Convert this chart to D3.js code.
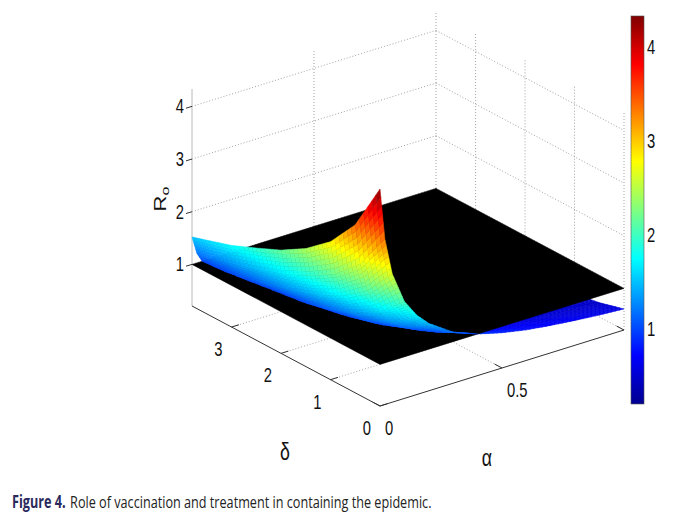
<!DOCTYPE html>
<html>
<head>
<meta charset="utf-8">
<script src="https://cdn.jsdelivr.net/npm/d3@7"></script>
<style>
  body { margin: 0; background: #fff; }
  svg { display: block; }
</style>
</head>
<body>
<svg id="chart" width="680" height="525"></svg>
<script>
// --- DATA ---
const alphaVals = [0, 0.02, 0.05, 0.1, 0.15, 0.2, 0.3, 0.4, 0.5, 0.6, 0.7, 0.8, 0.9, 1.0];
const deltaVals = [0, 0.5, 1, 1.5, 2, 2.5, 3, 3.5, 3.8];
// R0 values: one row per delta, one column per alpha
const r0Vals = [
  [4.33, 3.35, 2.65, 2.05, 1.72, 1.49, 1.18, 1.00, 0.88, 0.79, 0.73, 0.68, 0.64, 0.61],
  [3.40, 2.63, 2.08, 1.61, 1.35, 1.17, 0.93, 0.79, 0.69, 0.62, 0.57, 0.53, 0.50, 0.48],
  [2.83, 2.19, 1.73, 1.34, 1.12, 0.97, 0.77, 0.65, 0.58, 0.52, 0.48, 0.44, 0.42, 0.40],
  [2.45, 1.90, 1.50, 1.16, 0.97, 0.84, 0.67, 0.57, 0.50, 0.45, 0.41, 0.38, 0.36, 0.35],
  [2.17, 1.68, 1.33, 1.03, 0.86, 0.75, 0.59, 0.50, 0.44, 0.40, 0.37, 0.34, 0.32, 0.31],
  [1.96, 1.51, 1.20, 0.93, 0.78, 0.67, 0.53, 0.45, 0.40, 0.36, 0.33, 0.31, 0.29, 0.28],
  [1.76, 1.36, 1.08, 0.83, 0.70, 0.61, 0.48, 0.41, 0.36, 0.32, 0.30, 0.28, 0.26, 0.25],
  [1.61, 1.24, 0.98, 0.76, 0.64, 0.55, 0.44, 0.37, 0.33, 0.29, 0.27, 0.25, 0.24, 0.23],
  [1.52, 1.18, 0.93, 0.72, 0.61, 0.52, 0.42, 0.35, 0.31, 0.28, 0.26, 0.24, 0.23, 0.21]
];
const thresholdR0 = 1;
const alphaDomain = [0, 1];
const deltaDomain = [0, 3.8];
const zTicks = [1, 2, 3, 4];
const deltaTicks = [0, 1, 2, 3];
const alphaTicks = [0, 0.5];
const alphaGrid = [0.5, 1];
const colorTicks = [1, 2, 3, 4];

(function() {
    const svg = d3.select("#chart");
    const font = "'Liberation Sans', Arial, Helvetica, sans-serif";
    const squeeze = 0.74;

    const rAll = r0Vals.flat();
    const rMin = d3.min(rAll), rMax = d3.max(rAll);

    // --- SCALES (data -> unit box) ---
    const uScale = d3.scaleLinear().domain(alphaDomain).range([0, 1]);
    const vScale = d3.scaleLinear().domain(deltaDomain).range([0, 1]);
    const wScale = d3.scaleLinear().domain([rMin, rMax]).range([0, 1]);

    // box corner (alpha=0, delta=0, z=min) and screen edges of the unit box
    const O = [380, 406], eU = [244, -76], eV = [-188, -100], eW = [0, -217];

    function project(a, d, r) {
        const u = uScale(a), v = vScale(d), w = wScale(r);
        return [O[0] + u * eU[0] + v * eV[0] + w * eW[0],
                O[1] + u * eU[1] + v * eV[1] + w * eW[1]];
    }

    // direction toward the viewer (null vector of the projection)
    const r1 = [eU[0], eV[0], eW[0]], r2 = [eU[1], eV[1], eW[1]];
    let cam = [r1[1] * r2[2] - r1[2] * r2[1],
               r1[2] * r2[0] - r1[0] * r2[2],
               r1[0] * r2[1] - r1[1] * r2[0]];
    if (cam[2] < 0) cam = cam.map(c => -c);
    const depth = p => cam[0] * uScale(p.a) + cam[1] * vScale(p.d) + cam[2] * wScale(p.r);

    // jet colormap
    const jetPos = [0, 0.125, 0.375, 0.625, 0.875, 1];
    const jetCols = ["#00008f", "#0000ff", "#00ffff", "#ffff00", "#ff0000", "#800000"];
    const color = d3.scaleLinear()
        .domain(jetPos.map(p => rMin + p * (rMax - rMin)))
        .range(jetCols)
        .interpolate(d3.interpolateRgb)
        .clamp(true);

    const line = d3.line();

    // --- GRID & AXES ---
    const grid = svg.append("g")
        .attr("fill", "none")
        .attr("stroke", "#8a8a8a")
        .attr("stroke-width", 0.8)
        .attr("stroke-dasharray", "1,2");

    function seg3(g, p, q) {
        g.append("path").attr("d", line([project(...p), project(...q)]));
    }
    const [a0, a1] = alphaDomain, [d0, d1] = deltaDomain;

    // back-left wall (delta = max)
    zTicks.forEach(z => seg3(grid, [a0, d1, z], [a1, d1, z]));
    alphaGrid.forEach(a => seg3(grid, [a, d1, rMin], [a, d1, rMax]));
    // back-right wall (alpha = max)
    zTicks.forEach(z => seg3(grid, [a1, d1, z], [a1, d0, z]));
    deltaTicks.forEach(d => seg3(grid, [a1, d, rMin], [a1, d, rMax]));
    // floor
    deltaTicks.filter(d => d > 0).forEach(d => seg3(grid, [a0, d, rMin], [a1, d, rMin]));
    alphaGrid.forEach(a => seg3(grid, [a, d0, rMin], [a, d1, rMin]));

    const axes = svg.append("g").attr("fill", "none");
    axes.append("path").attr("stroke", "#b8b8b8").attr("stroke-width", 1)
        .attr("d", line([project(a0, d1, rMin), project(a0, d1, rMax)]));
    axes.append("path").attr("stroke", "#333").attr("stroke-width", 1)
        .attr("d", line([project(a0, d0, rMin), project(a0, d1, rMin)]));
    axes.append("path").attr("stroke", "#333").attr("stroke-width", 1)
        .attr("d", line([project(a0, d0, rMin), project(a1, d0, rMin)]));

    // tick marks
    const ticks = svg.append("g").attr("stroke", "#333").attr("stroke-width", 1);
    zTicks.forEach(z => {
        const p = project(a0, d1, z);
        ticks.append("line").attr("x1", p[0]).attr("y1", p[1]).attr("x2", p[0] - 6).attr("y2", p[1] + 1.8);
    });
    deltaTicks.forEach(d => {
        const p = project(a0, d, rMin), q = project(a0 + 0.03, d, rMin);
        ticks.append("line").attr("x1", p[0]).attr("y1", p[1]).attr("x2", q[0]).attr("y2", q[1]);
    });
    alphaTicks.concat([a1]).forEach(a => {
        const p = project(a, d0, rMin), q = project(a, d0 + 0.15, rMin);
        ticks.append("line").attr("x1", p[0]).attr("y1", p[1]).attr("x2", q[0]).attr("y2", q[1]);
    });

    // --- SURFACE PIECES ---
    const nA = 6, nD = 6;
    const above = [], below = [];

    function vert(i, j, s, t) {
        const r = (1 - s) * (1 - t) * r0Vals[j][i] + s * (1 - t) * r0Vals[j][i + 1]
                + (1 - s) * t * r0Vals[j + 1][i] + s * t * r0Vals[j + 1][i + 1];
        return {
            a: alphaVals[i] + s * (alphaVals[i + 1] - alphaVals[i]),
            d: deltaVals[j] + t * (deltaVals[j + 1] - deltaVals[j]),
            r: r
        };
    }

    function split(pts) {
        const up = [], dn = [];
        pts.forEach((p, k) => {
            const q = pts[(k + 1) % pts.length];
            (p.r >= thresholdR0 ? up : dn).push(p);
            if ((p.r - thresholdR0) * (q.r - thresholdR0) < 0) {
                const f = (thresholdR0 - p.r) / (q.r - p.r);
                const m = { a: p.a + f * (q.a - p.a), d: p.d + f * (q.d - p.d), r: thresholdR0 };
                up.push(m); dn.push(m);
            }
        });
        return [up, dn];
    }

    function piece(pts) {
        const mean = d3.mean(pts, p => p.r);
        const c = { a: d3.mean(pts, p => p.a), d: d3.mean(pts, p => p.d), r: mean };
        return { pts: pts, r: mean, z: depth(c) };
    }

    for (let i = 0; i < alphaVals.length - 1; i++) {
        for (let j = 0; j < deltaVals.length - 1; j++) {
            for (let s = 0; s < nA; s++) {
                for (let t = 0; t < nD; t++) {
                    const quad = [vert(i, j, s / nA, t / nD), vert(i, j, (s + 1) / nA, t / nD),
                                  vert(i, j, (s + 1) / nA, (t + 1) / nD), vert(i, j, s / nA, (t + 1) / nD)];
                    const [up, dn] = split(quad);
                    if (up.length >= 3) above.push(piece(up));
                    if (dn.length >= 3) below.push(piece(dn));
                }
            }
        }
    }
    above.sort((x, y) => x.z - y.z);
    below.sort((x, y) => x.z - y.z);

    function drawPieces(list) {
        svg.append("g")
            .selectAll("path")
            .data(list)
            .join("path")
            .attr("d", d => line(d.pts.map(p => project(p.a, p.d, p.r))) + "Z")
            .attr("fill", d => color(d.r))
            .attr("stroke", d => color(d.r))
            .attr("stroke-width", 0.5)
            .attr("stroke-linejoin", "round");
    }

    drawPieces(below);

    // threshold plane R0 = 1
    const plane = [[a0, d0], [a1, d0], [a1, d1], [a0, d1]].map(c => project(c[0], c[1], thresholdR0));
    svg.append("path").attr("d", line(plane) + "Z").attr("fill", "#000").attr("stroke", "#000").attr("stroke-width", 0.5);

    drawPieces(above);

    // --- LABELS ---
    function label(x, y, txt, anchor, size, rot) {
        return svg.append("g")
            .attr("transform", `translate(${x},${y}) scale(${squeeze},1)` + (rot ? ` rotate(${rot})` : ""))
            .append("text")
            .attr("text-anchor", anchor)
            .attr("dominant-baseline", "central")
            .attr("font-family", font)
            .attr("font-size", size)
            .attr("fill", "#111")
            .text(txt);
    }

    zTicks.forEach(z => {
        const p = project(a0, d1, z);
        label(p[0] - 8, p[1], d3.format("d")(z), "end", 20);
    });
    deltaTicks.forEach(d => {
        const p = project(a0, d, rMin);
        label(p[0] - 9, p[1] + 22, d3.format("d")(d), "end", 20);
    });
    alphaTicks.forEach(a => {
        const p = project(a, d0, rMin);
        label(p[0] + 5, p[1] + 22, a === 0 ? "0" : d3.format(".1f")(a), "start", 20);
    });

    label(285, 451, "δ", "middle", 24);
    label(487, 457, "α", "middle", 24);

    const rl = label(160, 199, "", "middle", 22, -90);
    rl.append("tspan").text("R");
    rl.append("tspan").attr("font-size", 16).attr("dy", 6).text("o");

    // --- COLORBAR ---
    const cb = { x: 631, w: 13, top: 16, bottom: 404 };
    const cbScale = d3.scaleLinear().domain([rMin, rMax]).range([cb.bottom, cb.top]);
    const grad = svg.append("defs").append("linearGradient")
        .attr("id", "jet").attr("x1", 0).attr("y1", 1).attr("x2", 0).attr("y2", 0);
    d3.range(0, 1.0001, 1 / 48).forEach(f => {
        grad.append("stop").attr("offset", f).attr("stop-color", color(rMin + f * (rMax - rMin)));
    });
    svg.append("rect")
        .attr("x", cb.x).attr("y", cb.top).attr("width", cb.w).attr("height", cb.bottom - cb.top)
        .attr("fill", "url(#jet)").attr("stroke", "#555").attr("stroke-width", 0.6);
    colorTicks.forEach(v => {
        const y = cbScale(v);
        ticks.append("line").attr("x1", cb.x).attr("x2", cb.x + 3).attr("y1", y).attr("y2", y);
        ticks.append("line").attr("x1", cb.x + cb.w).attr("x2", cb.x + cb.w - 3).attr("y1", y).attr("y2", y);
        label(cb.x + cb.w + 3, y, d3.format("d")(v), "start", 20);
    });

    // --- CAPTION (condensed to the journal width) ---
    const capFont = "'Open Sans', 'Noto Sans', sans-serif";
    const capG = svg.append("g");
    const capA = capG.append("text")
        .attr("x", 0).attr("y", 0)
        .attr("font-family", capFont).attr("font-size", 17).attr("font-weight", "bold")
        .attr("fill", "#2a2a5c")
        .text("Figure 4.");
    const wA = capA.node().getComputedTextLength();
    const capB = capG.append("text")
        .attr("x", wA + 6).attr("y", 0)
        .attr("font-family", capFont).attr("font-size", 17)
        .attr("fill", "#222")
        .text("Role of vaccination and treatment in containing the epidemic.");
    const wB = capB.node().getComputedTextLength();
    capG.attr("transform", `translate(12,508) scale(${420 / (wA + 6 + wB)},1)`);
})();
</script>
</body>
</html>
